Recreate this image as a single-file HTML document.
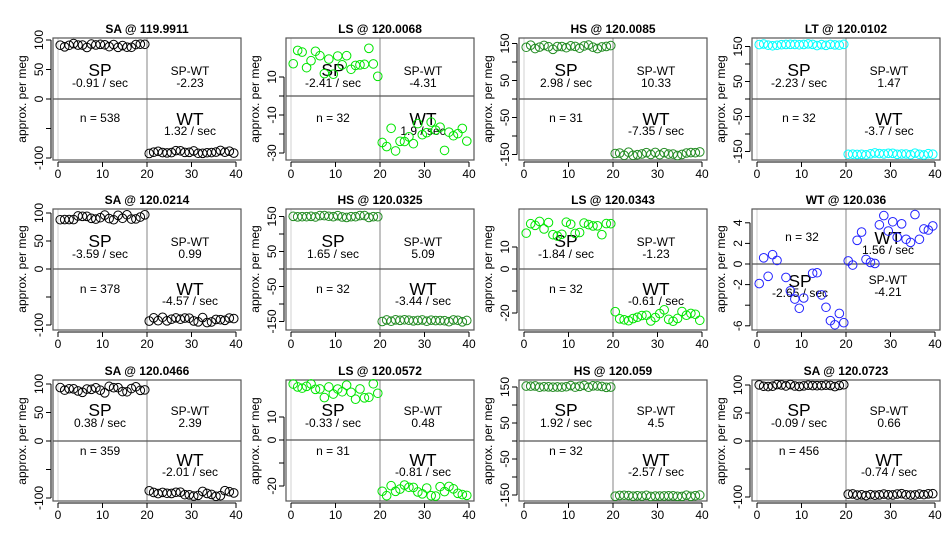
<!DOCTYPE html>
<html><head><meta charset="utf-8">
<style>
html,body{margin:0;padding:0;background:#fff}
svg{display:block}
text{font-family:"Liberation Sans",sans-serif;text-anchor:middle;font-size:12px;fill:#000}
.t{font-weight:bold;font-size:12px}
.big{font-size:17.5px}
.m{font-size:12px}
</style></head><body>
<svg id="s" width="950" height="550" xmlns="http://www.w3.org/2000/svg">
<rect width="950" height="550" fill="#fff"/>

<g id="p1" transform="translate(53,38)">
<text class="t" x="94" y="-5">SA @ 119.9911</text>
<text transform="translate(-27,61) rotate(-90)">approx. per meg</text>
<text class="big" x="47" y="38">SP</text><text class="m" x="47" y="49">-0.91 / sec</text>
<text class="m" x="137" y="37">SP-WT</text><text class="m" x="137" y="49">-2.23</text>
<text class="m" x="47" y="84">n = 538</text>
<text class="big" x="137" y="87">WT</text><text class="m" x="137" y="97">1.32 / sec</text>
<text x="5" y="140">0</text><text x="49.5" y="140">10</text><text x="94" y="140">20</text><text x="138.5" y="140">30</text><text x="183" y="140">40</text>
<text transform="translate(-10,2) rotate(-90)">100</text><text transform="translate(-10,31.5) rotate(-90)">50</text><text transform="translate(-10,61) rotate(-90)">0</text><text transform="translate(-10,120) rotate(-90)">-100</text>
</g>

<g id="p2" transform="translate(286,38)">
<text class="t" x="94" y="-5">LS @ 120.0068</text>
<text transform="translate(-27,61) rotate(-90)">approx. per meg</text>
<text class="big" x="47" y="38">SP</text><text class="m" x="47" y="49">-2.41 / sec</text>
<text class="m" x="137" y="37">SP-WT</text><text class="m" x="137" y="49">-4.31</text>
<text class="m" x="47" y="84">n = 32</text>
<text class="big" x="137" y="87">WT</text><text class="m" x="137" y="97">1.9 / sec</text>
<text x="5" y="140">0</text><text x="49.5" y="140">10</text><text x="94" y="140">20</text><text x="138.5" y="140">30</text><text x="183" y="140">40</text>
<text transform="translate(-10,39) rotate(-90)">10</text><text transform="translate(-10,77) rotate(-90)">-10</text><text transform="translate(-10,115) rotate(-90)">-30</text>
</g>

<g id="p3" transform="translate(519,38)">
<text class="t" x="94" y="-5">HS @ 120.0085</text>
<text transform="translate(-27,61) rotate(-90)">approx. per meg</text>
<text class="big" x="47" y="38">SP</text><text class="m" x="47" y="49">2.98 / sec</text>
<text class="m" x="137" y="37">SP-WT</text><text class="m" x="137" y="49">10.33</text>
<text class="m" x="47" y="84">n = 31</text>
<text class="big" x="137" y="87">WT</text><text class="m" x="137" y="97">-7.35 / sec</text>
<text x="5" y="140">0</text><text x="49.5" y="140">10</text><text x="94" y="140">20</text><text x="138.5" y="140">30</text><text x="183" y="140">40</text>
<text transform="translate(-10,5.5) rotate(-90)">150</text><text transform="translate(-10,42.5) rotate(-90)">50</text><text transform="translate(-10,79.5) rotate(-90)">-50</text><text transform="translate(-10,116.5) rotate(-90)">-150</text>
</g>

<g id="p4" transform="translate(752,38)">
<text class="t" x="94" y="-5">LT @ 120.0102</text>
<text transform="translate(-27,61) rotate(-90)">approx. per meg</text>
<text class="big" x="47" y="38">SP</text><text class="m" x="47" y="49">-2.23 / sec</text>
<text class="m" x="137" y="37">SP-WT</text><text class="m" x="137" y="49">1.47</text>
<text class="m" x="47" y="84">n = 32</text>
<text class="big" x="137" y="87">WT</text><text class="m" x="137" y="97">-3.7 / sec</text>
<text x="5" y="140">0</text><text x="49.5" y="140">10</text><text x="94" y="140">20</text><text x="138.5" y="140">30</text><text x="183" y="140">40</text>
<text transform="translate(-10,8.5) rotate(-90)">150</text><text transform="translate(-10,43.5) rotate(-90)">50</text><text transform="translate(-10,78.5) rotate(-90)">-50</text><text transform="translate(-10,113.5) rotate(-90)">-150</text>
</g>

<g id="p5" transform="translate(53,209)">
<text class="t" x="94" y="-5">SA @ 120.0214</text>
<text transform="translate(-27,60) rotate(-90)">approx. per meg</text>
<text class="big" x="47" y="38">SP</text><text class="m" x="47" y="49">-3.59 / sec</text>
<text class="m" x="137" y="37">SP-WT</text><text class="m" x="137" y="49">0.99</text>
<text class="m" x="47" y="84">n = 378</text>
<text class="big" x="137" y="86">WT</text><text class="m" x="137" y="96">-4.57 / sec</text>
<text x="5" y="139">0</text><text x="49.5" y="139">10</text><text x="94" y="139">20</text><text x="138.5" y="139">30</text><text x="183" y="139">40</text>
<text transform="translate(-10,4) rotate(-90)">100</text><text transform="translate(-10,32) rotate(-90)">50</text><text transform="translate(-10,60) rotate(-90)">0</text><text transform="translate(-10,116) rotate(-90)">-100</text>
</g>

<g id="p6" transform="translate(286,209)">
<text class="t" x="94" y="-5">HS @ 120.0325</text>
<text transform="translate(-27,60) rotate(-90)">approx. per meg</text>
<text class="big" x="47" y="38">SP</text><text class="m" x="47" y="49">1.65 / sec</text>
<text class="m" x="137" y="37">SP-WT</text><text class="m" x="137" y="49">5.09</text>
<text class="m" x="47" y="84">n = 32</text>
<text class="big" x="137" y="86">WT</text><text class="m" x="137" y="96">-3.44 / sec</text>
<text x="5" y="139">0</text><text x="49.5" y="139">10</text><text x="94" y="139">20</text><text x="138.5" y="139">30</text><text x="183" y="139">40</text>
<text transform="translate(-10,7.5) rotate(-90)">150</text><text transform="translate(-10,42.5) rotate(-90)">50</text><text transform="translate(-10,77.5) rotate(-90)">-50</text><text transform="translate(-10,112.5) rotate(-90)">-150</text>
</g>

<g id="p7" transform="translate(519,209)">
<text class="t" x="94" y="-5">LS @ 120.0343</text>
<text transform="translate(-27,60) rotate(-90)">approx. per meg</text>
<text class="big" x="47" y="38">SP</text><text class="m" x="47" y="49">-1.84 / sec</text>
<text class="m" x="137" y="37">SP-WT</text><text class="m" x="137" y="49">-1.23</text>
<text class="m" x="47" y="84">n = 32</text>
<text class="big" x="137" y="86">WT</text><text class="m" x="137" y="96">-0.61 / sec</text>
<text x="5" y="139">0</text><text x="49.5" y="139">10</text><text x="94" y="139">20</text><text x="138.5" y="139">30</text><text x="183" y="139">40</text>
<text transform="translate(-10,38) rotate(-90)">10</text><text transform="translate(-10,60) rotate(-90)">0</text><text transform="translate(-10,104) rotate(-90)">-20</text>
</g>

<g id="p8" transform="translate(752,209)">
<text class="t" x="94" y="-5">WT @ 120.036</text>
<text transform="translate(-27,60) rotate(-90)">approx. per meg</text>
<text class="m" x="50" y="32">n = 32</text>
<text class="big" x="136" y="35">WT</text><text class="m" x="136" y="45">1.56 / sec</text>
<text class="big" x="48" y="78">SP</text><text class="m" x="48" y="88">-2.65 / sec</text>
<text class="m" x="136" y="75">SP-WT</text><text class="m" x="136" y="87">-4.21</text>
<text x="5" y="139">0</text><text x="49.5" y="139">10</text><text x="94" y="139">20</text><text x="138.5" y="139">30</text><text x="183" y="139">40</text>
<text transform="translate(-10,13.8) rotate(-90)">4</text><text transform="translate(-10,34.4) rotate(-90)">2</text><text transform="translate(-10,55) rotate(-90)">0</text><text transform="translate(-10,75.6) rotate(-90)">-2</text><text transform="translate(-10,116.8) rotate(-90)">-6</text>
</g>

<g id="p9" transform="translate(53,380)">
<text class="t" x="94" y="-5">SA @ 120.0466</text>
<text transform="translate(-27,61) rotate(-90)">approx. per meg</text>
<text class="big" x="47" y="36">SP</text><text class="m" x="47" y="47">0.38 / sec</text>
<text class="m" x="137" y="35">SP-WT</text><text class="m" x="137" y="47">2.39</text>
<text class="m" x="47" y="75">n = 359</text>
<text class="big" x="137" y="86">WT</text><text class="m" x="137" y="96">-2.01 / sec</text>
<text x="5" y="139">0</text><text x="49.5" y="139">10</text><text x="94" y="139">20</text><text x="138.5" y="139">30</text><text x="183" y="139">40</text>
<text transform="translate(-10,4) rotate(-90)">100</text><text transform="translate(-10,32.5) rotate(-90)">50</text><text transform="translate(-10,61) rotate(-90)">0</text><text transform="translate(-10,118) rotate(-90)">-100</text>
</g>

<g id="p10" transform="translate(286,380)">
<text class="t" x="94" y="-5">LS @ 120.0572</text>
<text transform="translate(-27,61) rotate(-90)">approx. per meg</text>
<text class="big" x="47" y="36">SP</text><text class="m" x="47" y="47">-0.33 / sec</text>
<text class="m" x="137" y="35">SP-WT</text><text class="m" x="137" y="47">0.48</text>
<text class="m" x="47" y="75">n = 31</text>
<text class="big" x="137" y="86">WT</text><text class="m" x="137" y="96">-0.81 / sec</text>
<text x="5" y="139">0</text><text x="49.5" y="139">10</text><text x="94" y="139">20</text><text x="138.5" y="139">30</text><text x="183" y="139">40</text>
<text transform="translate(-10,37) rotate(-90)">10</text><text transform="translate(-10,60) rotate(-90)">0</text><text transform="translate(-10,106) rotate(-90)">-20</text>
</g>

<g id="p11" transform="translate(519,380)">
<text class="t" x="94" y="-5">HS @ 120.059</text>
<text transform="translate(-27,61) rotate(-90)">approx. per meg</text>
<text class="big" x="47" y="36">SP</text><text class="m" x="47" y="47">1.92 / sec</text>
<text class="m" x="137" y="35">SP-WT</text><text class="m" x="137" y="47">4.5</text>
<text class="m" x="47" y="75">n = 32</text>
<text class="big" x="137" y="86">WT</text><text class="m" x="137" y="96">-2.57 / sec</text>
<text x="5" y="139">0</text><text x="49.5" y="139">10</text><text x="94" y="139">20</text><text x="138.5" y="139">30</text><text x="183" y="139">40</text>
<text transform="translate(-10,7) rotate(-90)">150</text><text transform="translate(-10,43) rotate(-90)">50</text><text transform="translate(-10,79) rotate(-90)">-50</text><text transform="translate(-10,115) rotate(-90)">-150</text>
</g>

<g id="p12" transform="translate(752,380)">
<text class="t" x="94" y="-5">SA @ 120.0723</text>
<text transform="translate(-27,61) rotate(-90)">approx. per meg</text>
<text class="big" x="47" y="36">SP</text><text class="m" x="47" y="47">-0.09 / sec</text>
<text class="m" x="137" y="35">SP-WT</text><text class="m" x="137" y="47">0.66</text>
<text class="m" x="47" y="75">n = 456</text>
<text class="big" x="137" y="86">WT</text><text class="m" x="137" y="96">-0.74 / sec</text>
<text x="5" y="139">0</text><text x="49.5" y="139">10</text><text x="94" y="139">20</text><text x="138.5" y="139">30</text><text x="183" y="139">40</text>
<text transform="translate(-10,5) rotate(-90)">100</text><text transform="translate(-10,33) rotate(-90)">50</text><text transform="translate(-10,61) rotate(-90)">0</text><text transform="translate(-10,117) rotate(-90)">-100</text>
</g>
</svg>
<script>
(function(){
var NS="http://www.w3.org/2000/svg";
var seed=12345;function rnd(){seed=(seed*1103515245+12345)%2147483648;return seed/2147483648;}
var G="#00e600",D="#228b22",K="#000",C="#00ffff",B="#2222ff";
var P=[
[1,122,61,.59,[100,50,0,-50,-100],K,90,4,-90,3],
[2,122,58,1.9,[10,0,-10,-20,-30],G,18,8,-20,9],
[3,122,61,.37,[150,100,50,0,-50,-100,-150],D,140,6,-148,5],
[4,122,61,.35,[150,100,50,0,-50,-100,-150],C,155,3,-157,3],
[5,121,60,.56,[100,50,0,-50,-100],K,92,5,-90,6],
[6,121,60,.35,[150,100,50,0,-50,-100,-150],D,150,3,-148,3],
[7,121,60,2.2,[10,0,-10,-20],G,18,4,-21,3],
[8,121,55,10.3,[4,2,0,-2,-4,-6],B,0,0,0,0],
[9,121,61,.57,[100,50,0,-50,-100],K,90,6,-92,5],
[10,121,60,2.3,[10,0,-10,-20],G,21,3.5,-22,2.5],
[11,121,61,.36,[150,100,50,0,-50,-100,-150],D,152,3,-152,2],
[12,121,61,.56,[100,50,0,-50,-100],K,99,2,-96,2]];
var W8=[[0.5,-1.9],[1.5,0.6],[2.5,-1.2],[3.5,0.9],[4.5,0.35],[6.5,-1.3],[7.5,-2.6],[8.5,-3.4],[9.5,-4.3],[10.5,-3.3],[12.5,-0.9],[13.5,-0.85],[14.5,-3],[15.5,-4.2],[16.5,-5.5],[17.5,-5.9],[18.5,-4.8],[19.5,-5.7],
[20.5,0.3],[21.5,-0.1],[22.5,2.3],[23.5,3.1],[24.5,0.45],[25.5,0.15],[26.5,0.05],[27.5,3.8],[28.5,4.7],[29.5,3.2],[30.5,4.1],[31.5,2.6],[32.5,3.9],[33.5,2.4],[34.5,2.1],[35.5,4.8],[36.5,2.4],[37.5,3.4],[38.5,3.3],[39.5,3.7]];
function el(g,n,a){var e=document.createElementNS(NS,n);for(var k in a)e.setAttribute(k,a[k]);g.appendChild(e);return e;}
P.forEach(function(p){
 var g=document.getElementById("p"+p[0]),h=p[1],z=p[2],s=p[3],tk=p[4],col=p[5];
 function X(t){return 5+t*4.45;} function Y(v){return z-v*s;}
 el(g,"line",{x1:5,y1:0,x2:5,y2:h,stroke:"#d8d8d8","stroke-width":1.2});
 el(g,"line",{x1:94,y1:0,x2:94,y2:h,stroke:"#999","stroke-width":1.2});
 el(g,"line",{x1:0,y1:z,x2:188,y2:z,stroke:"#555","stroke-width":1.2});
 el(g,"rect",{x:0,y:0,width:188,height:h,fill:"none",stroke:"#555","stroke-width":1.2});
 el(g,"line",{x1:5,y1:h+2,x2:183,y2:h+2,stroke:"#000","stroke-width":1});
 for(var i=0;i<=4;i++)el(g,"line",{x1:X(i*10),y1:h+2,x2:X(i*10),y2:h+7,stroke:"#000"});
 var t0=Y(tk[0]),t1=Y(tk[tk.length-1]);
 el(g,"line",{x1:-2,y1:t0,x2:-2,y2:t1,stroke:"#000"});
 tk.forEach(function(v){el(g,"line",{x1:-7,y1:Y(v),x2:-2,y2:Y(v),stroke:"#000"});});
 var pts=[];
 if(p[0]==8)pts=W8;else{
  for(var j=0;j<20;j++)pts.push([j+0.5,p[6]+(rnd()*2-1)*p[7]]);
  for(var j=20;j<40;j++)pts.push([j+0.5,p[8]+(rnd()*2-1)*p[9]]);}
 pts.forEach(function(q){el(g,"circle",{cx:X(q[0]),cy:Y(q[1]),r:4.3,fill:"none",stroke:col,"stroke-width":1});});
});
})();
</script>
</body></html>
